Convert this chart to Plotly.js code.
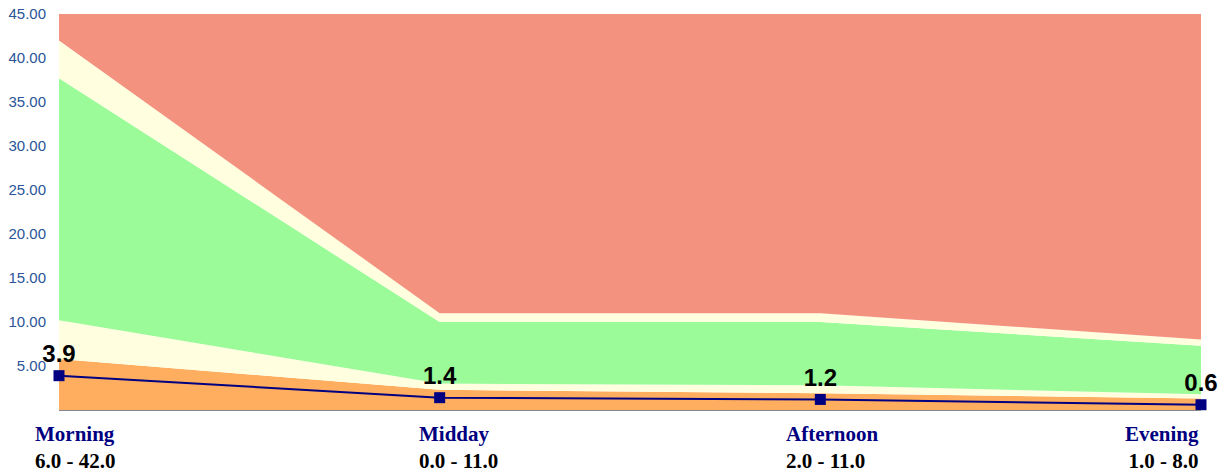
<!DOCTYPE html>
<html>
<head>
<meta charset="utf-8">
<script src="https://cdn.plot.ly/plotly-3.0.1.min.js"></script>
<style>html,body{margin:0;padding:0;background:#fff;}#chart{width:1228px;height:476px;}</style>
</head>
<body>
<div id="chart"></div>
<script>
// Categories and their range labels
const categories = ["Morning", "Midday", "Afternoon", "Evening"];
const rangeLabels = ["6.0 - 42.0", "0.0 - 11.0", "2.0 - 11.0", "1.0 - 8.0"];

// Band upper boundaries (cumulative values)
const bandOrange     = [5.8, 2.3, 1.9, 1.3];
const bandLowYellow  = [10.2, 3.0, 2.8, 1.8];
const bandGreen      = [37.7, 10.0, 10.0, 7.3];
const bandHighYellow = [42.0, 11.0, 11.0, 8.0];
const bandSalmon     = [45.0, 45.0, 45.0, 45.0];

// Line series
const lineValues = [3.9, 1.4, 1.2, 0.6];
const lineLabels = ["3.9", "1.4", "1.2", "0.6"];

// Y-axis ticks
const yTickVals = [5, 10, 15, 20, 25, 30, 35, 40, 45];

const bands = [
  {y: bandOrange, color: "#FFAD5E", fill: "tozeroy"},
  {y: bandLowYellow, color: "#FFFFE0", fill: "tonexty"},
  {y: bandGreen, color: "#9AFB98", fill: "tonexty"},
  {y: bandHighYellow, color: "#FFFFE0", fill: "tonexty"},
  {y: bandSalmon, color: "#F3937F", fill: "tonexty"}
];

const traces = bands.map(b => ({
  x: categories, y: b.y, type: "scatter", mode: "lines",
  fill: b.fill, fillcolor: b.color, line: {width: 0, color: b.color},
  hoverinfo: "skip", showlegend: false
}));

traces.push({
  x: categories, y: lineValues, type: "scatter", mode: "lines+markers+text",
  line: {color: "#000080", width: 2},
  marker: {symbol: "square", size: 11, color: "#000080"},
  text: lineLabels, textposition: "top center",
  textfont: {family: "Liberation Sans, Arial, sans-serif", size: 24, color: "#000000", weight: "bold"},
  cliponaxis: false, showlegend: false, hoverinfo: "skip"
});

const labelShifts = [-26, -23, -36, 0];
const annotations = categories.map((c, i) => ({
  xref: "x", yref: "paper", x: c, y: 0,
  xanchor: i === categories.length - 1 ? "right" : "left",
  yanchor: "top", align: i === categories.length - 1 ? "right" : "left",
  xshift: labelShifts[i], yshift: -10,
  showarrow: false,
  text: "<b><span style='color:#000080'>" + c + "</span></b><br><b>" + rangeLabels[i] + "</b>",
  font: {family: "Liberation Serif, Times New Roman, serif", size: 21, color: "#000000"}
}));

const layout = {
  width: 1228, height: 476,
  margin: {l: 59, r: 27, t: 14, b: 66},
  paper_bgcolor: "#ffffff", plot_bgcolor: "#ffffff",
  showlegend: false,
  xaxis: {
    type: "category", range: [0, 3], showticklabels: false, showgrid: false,
    zeroline: false, showline: true, linecolor: "#888888", linewidth: 1, ticks: "",
    fixedrange: true
  },
  yaxis: {
    range: [0, 45], tickvals: yTickVals, tickformat: ".2f", showgrid: false,
    zeroline: false, showline: false, ticks: "", ticklabelstandoff: 12,
    tickfont: {family: "Liberation Sans, Arial, sans-serif", size: 15, color: "#2A5597"},
    fixedrange: true
  },
  annotations: annotations
};

Plotly.newPlot("chart", traces, layout, {displayModeBar: false, staticPlot: true});
</script>
</body>
</html>
